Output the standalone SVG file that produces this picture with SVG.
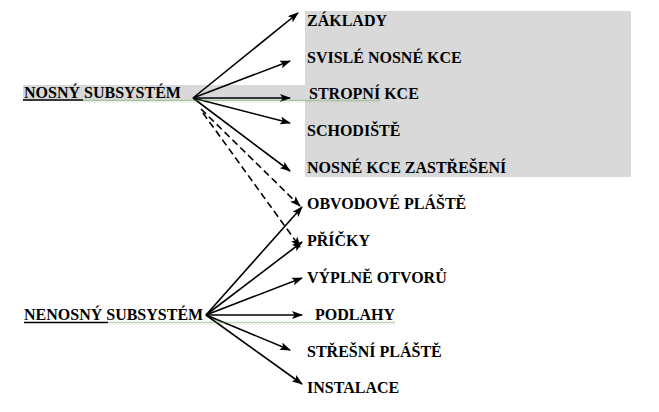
<svg xmlns="http://www.w3.org/2000/svg" width="659" height="412" viewBox="0 0 659 412">
<defs>
<style>
text{font-weight:bold;font-size:16px;fill:#000}
.c{stroke:#000;stroke-width:1.6;fill:none;marker-end:url(#ah)}
.d{stroke-dasharray:7 4}
.ul{stroke:#000;stroke-width:1.6}
</style>
<marker id="ah" markerUnits="userSpaceOnUse" markerWidth="11" markerHeight="8" refX="10" refY="4" orient="auto">
<path d="M0,0 L11,4 L0,8 L2.5,4 z" fill="#000"/>
</marker>
<pattern id="wavy" width="4" height="3" patternUnits="userSpaceOnUse">
<path d="M0,2.5 L2,0.5 L4,2.5" stroke="#5a9a40" stroke-width="0.8" fill="none"/>
</pattern>
</defs>
<rect x="305" y="11" width="326" height="166" fill="#d9d9d9"/>
<rect x="23" y="85" width="282" height="16" fill="#d9d9d9"/>
<g id="connectors">
<line class="c" x1="193" y1="98" x2="298" y2="13"/>
<line class="c" x1="193" y1="98" x2="290" y2="61"/>
<line class="c" x1="193" y1="98" x2="290" y2="98"/>
<line class="c" x1="193" y1="98" x2="290" y2="123"/>
<line class="c" x1="193" y1="98" x2="290" y2="171"/>
<line class="c d" x1="201" y1="109" x2="300" y2="206"/>
<line class="c d" x1="203" y1="113" x2="300" y2="247"/>
<line class="c" x1="206" y1="315" x2="302" y2="207"/>
<line class="c" x1="206" y1="315" x2="302" y2="242"/>
<line class="c" x1="206" y1="315" x2="302" y2="278"/>
<line class="c" x1="206" y1="315" x2="302" y2="315"/>
<line class="c" x1="206" y1="315" x2="290" y2="350"/>
<line class="c" x1="206" y1="315" x2="302" y2="384"/>
</g>
<g font-family="Liberation Serif, DejaVu Serif, serif">
<g id="nosny">
<text x="24" y="98">NOSNÝ SUBSYSTÉM</text>
<line class="ul" x1="23" y1="100" x2="83" y2="100"/>
<rect x="83" y="99.5" width="297" height="3" fill="url(#wavy)"/>
</g>
<g id="nenosny">
<text x="24" y="320">NENOSNÝ SUBSYSTÉM</text>
<line class="ul" x1="24" y1="322.5" x2="108" y2="322.5"/>
<rect x="108" y="321.5" width="287" height="3" fill="url(#wavy)"/>
</g>
<g id="zaklady"><text x="307" y="26">ZÁKLADY</text></g>
<g id="svisle"><text x="307" y="63">SVISLÉ NOSNÉ KCE</text></g>
<g id="stropni"><text x="309" y="99">STROPNÍ KCE</text></g>
<g id="schodiste"><text x="307" y="136">SCHODIŠTĚ</text></g>
<g id="zastreseni"><text x="307" y="173">NOSNÉ KCE ZASTŘEŠENÍ</text></g>
<g id="obvodove"><text x="307" y="209">OBVODOVÉ PLÁŠTĚ</text></g>
<g id="pricky"><text x="307" y="246">PŘÍČKY</text></g>
<g id="vyplne"><text x="307" y="283">VÝPLNĚ OTVORŮ</text></g>
<g id="podlahy"><text x="315" y="320">PODLAHY</text></g>
<g id="stresni"><text x="307" y="357">STŘEŠNÍ PLÁŠTĚ</text></g>
<g id="instalace"><text x="307" y="393">INSTALACE</text></g>
</g>
</svg>
